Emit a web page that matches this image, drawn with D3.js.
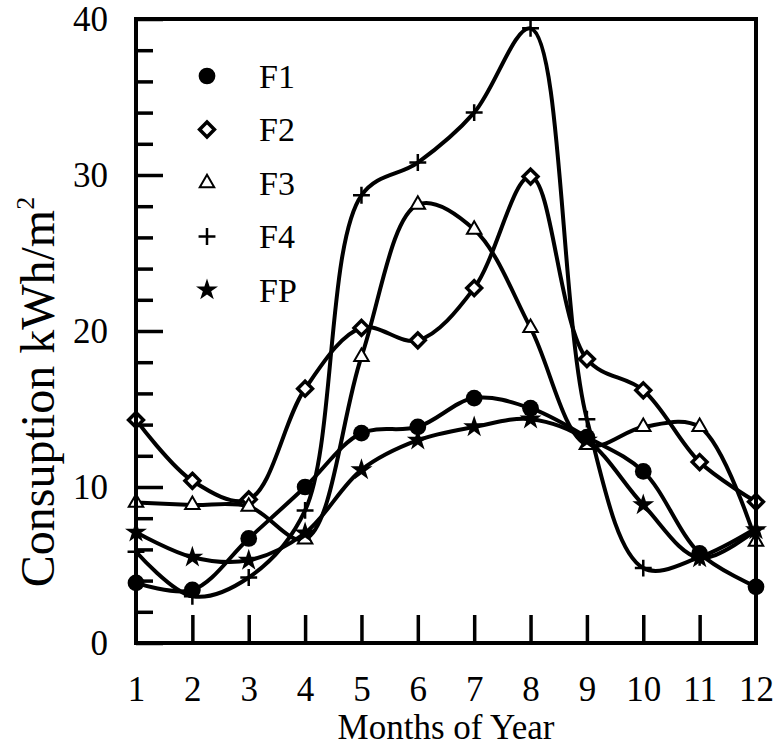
<!DOCTYPE html>
<html>
<head>
<meta charset="utf-8">
<script src="https://cdn.jsdelivr.net/npm/d3@7"></script>
<style>
  body { margin: 0; background: #fff; }
  text { font-family: "Liberation Serif", "Times New Roman", serif; fill: #000; }
</style>
</head>
<body>
<div id="chart"></div>
<script>
// Monate und Verbrauchswerte (kWh/m2)
const months = [1, 2, 3, 4, 5, 6, 7, 8, 9, 10, 11, 12]
const f1 = [3.85, 3.4, 6.7, 10.0, 13.45, 13.85, 15.7, 15.05, 13.2, 11.0, 5.75, 3.6]
const f2 = [14.3, 10.4, 9.2, 16.3, 20.2, 19.4, 22.75, 29.9, 18.2, 16.2, 11.6, 9.05]
const f3 = [9.0, 8.85, 8.75, 6.65, 18.35, 28.1, 26.5, 20.2, 12.7, 13.85, 13.85, 6.5]
const f4 = [5.85, 3.0, 4.2, 8.5, 28.7, 30.8, 34.0, 39.4, 14.35, 4.8, 5.5, 7.35]
const fp = [7.1, 5.5, 5.3, 7.05, 11.1, 13.0, 13.85, 14.35, 13.0, 8.85, 5.45, 7.25]
const seriesNames = ["F1", "F2", "F3", "F4", "FP"]
const yMajor = [0, 10, 20, 30, 40]
const yMinor = [2, 4, 6, 8, 12, 14, 16, 18, 22, 24, 26, 28, 32, 34, 36, 38]

const series = [
    {name: "F1", values: f1, symbol: d3.symbolCircle, size: 220, fill: "#000", stroke: "none", sw: 0},
    {name: "F2", values: f2, symbol: d3.symbolDiamond2, size: 140, fill: "#fff", stroke: "#000", sw: 3.5},
    {name: "F3", values: f3, symbol: d3.symbolTriangle2, size: 150, fill: "#fff", stroke: "#000", sw: 2},
    {name: "F4", values: f4, symbol: d3.symbolPlus, size: 95, fill: "none", stroke: "#000", sw: 2.5},
    {name: "FP", values: fp, symbol: d3.symbolStar, size: 150, fill: "#000", stroke: "none", sw: 0}
]

const width = 784
const height = 748
const margin = {top: 19, right: 28, bottom: 105, left: 136}

const svg = d3.select("#chart")
    .append("svg")
    .attr("width", width)
    .attr("height", height)

const x = d3.scaleLinear()
    .domain([1, 12])
    .range([margin.left, width - margin.right])

const y = d3.scaleLinear()
    .domain([0, 40])
    .range([height - margin.bottom, margin.top])

// Kurven (zentripetale Catmull-Rom-Splines)
const line = d3.line()
    .x(function (d, i) { return x(months[i]); })
    .y(function (d) { return y(d); })
    .curve(d3.curveCatmullRom.alpha(0.5))

const plot = svg.append("g")

series.forEach(function (s) {
    plot.append("path")
        .attr("d", line(s.values))
        .attr("fill", "none")
        .attr("stroke", "#000")
        .attr("stroke-width", 4)
})

series.forEach(function (s) {
    plot.selectAll(null)
        .data(s.values)
        .enter().append("path")
        .attr("transform", function (d, i) {
            return "translate(" + x(months[i]) + "," + y(d) + ")";
        })
        .attr("d", d3.symbol().type(s.symbol).size(s.size))
        .attr("fill", s.fill)
        .attr("stroke", s.stroke)
        .attr("stroke-width", s.sw)
})

// Achsen: Ticks nach innen
const xAxis = d3.axisBottom(x)
    .tickValues(months)
    .tickSizeInner(-28)
    .tickSizeOuter(0)
    .tickPadding(33)
svg.append("g")
    .attr("transform", "translate(0," + y(0) + ")")
    .call(xAxis)
    .call(function (g) {
        g.select(".domain").remove()
        g.selectAll(".tick line").attr("stroke-width", 3.5)
            .attr("display", function (d) { return (d === 1 || d === 12) ? "none" : null; })
        g.selectAll(".tick text").attr("font-size", 35)
    })

svg.append("g")
    .attr("transform", "translate(" + x(1) + ",0)")
    .call(d3.axisLeft(y).tickValues(yMinor).tickSize(-17).tickFormat(""))
    .call(function (g) {
        g.select(".domain").remove()
        g.selectAll(".tick line").attr("stroke-width", 3.5)
    })

svg.append("g")
    .attr("transform", "translate(" + x(1) + ",0)")
    .call(d3.axisLeft(y).tickValues(yMajor).tickSizeInner(-27).tickSizeOuter(0).tickPadding(28))
    .call(function (g) {
        g.select(".domain").remove()
        g.selectAll(".tick line").attr("stroke-width", 3.5)
        g.selectAll(".tick text").attr("font-size", 35)
    })

// Rahmen
svg.append("rect")
    .attr("x", x(1))
    .attr("y", y(40))
    .attr("width", x(12) - x(1))
    .attr("height", y(0) - y(40))
    .attr("fill", "none")
    .attr("stroke", "#000")
    .attr("stroke-width", 4)

// Legende
const legend = svg.append("g")
series.forEach(function (s, i) {
    const ly = 76 + i * 53.5
    legend.append("path")
        .attr("transform", "translate(207," + ly + ")")
        .attr("d", d3.symbol().type(s.symbol).size(s.size))
        .attr("fill", s.fill)
        .attr("stroke", s.stroke)
        .attr("stroke-width", s.sw)
    legend.append("text")
        .attr("x", 259)
        .attr("y", ly)
        .attr("dy", "0.35em")
        .attr("font-size", 34)
        .text(seriesNames[i])
})

// Achsenbeschriftung
svg.append("text")
    .attr("x", (x(1) + x(12)) / 2)
    .attr("y", 739)
    .attr("text-anchor", "middle")
    .attr("font-size", 35)
    .text("Months of Year")

const yl = svg.append("text")
    .attr("transform", "translate(54,392) rotate(-90)")
    .attr("text-anchor", "middle")
    .attr("font-size", 48)
yl.append("tspan").text("Consuption kWh/m")
yl.append("tspan").attr("font-size", 26).attr("dy", -20).text("2")
</script>
</body>
</html>
